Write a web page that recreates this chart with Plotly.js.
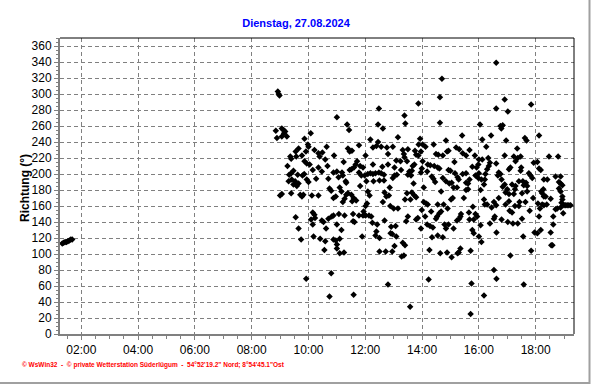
<!DOCTYPE html>
<html>
<head>
<meta charset="utf-8">
<script src="https://cdn.plot.ly/plotly-3.0.1.min.js"></script>
<style>html,body{margin:0;padding:0;background:#fff;}#chart{width:592px;height:384px;}</style>
</head>
<body>
<div id="chart"></div>
<script>
// Time of measurement in decimal hours (27.08.2024)
var hours = [
1.33,1.38,1.43,1.48,1.53,1.58,1.63,1.68,
8.92,8.98,8.95,9.06,9.12,9.18,9.14,8.85,8.89,9.06,9.24,9.86,10.08,9.98,10.0,9.65,9.55,9.77,9.91,9.36,9.39,9.57,9.86,9.94,10.04,10.21,10.35,10.49,10.39,10.64,10.90,10.59,10.67,9.26,10.35,10.47,10.15,9.47,9.39,9.32,9.62,9.85,9.79,10.88,9.30,9.41,9.53,9.65,9.47,9.59,9.94,10.0,10.27,10.70,10.74,10.80,10.88,9.00,9.06,9.39,9.71,9.77,9.82,10.12,10.35,10.15,10.21,10.23,10.09,10.47,10.53,10.70,10.82,10.88,9.55,9.65,10.15,10.62,9.74,10.18,10.41,10.59,10.56,10.88,10.80,9.92,10.74,
10.96,11.00,12.48,11.36,11.43,12.45,12.62,11.78,12.18,13.15,11.39,11.45,11.53,12.27,12.39,12.56,12.76,12.97,12.45,12.80,12.01,11.71,11.66,11.60,11.51,11.45,11.82,11.92,11.24,12.27,12.80,13.09,12.60,13.03,11.00,11.18,11.78,11.86,11.98,12.09,12.18,12.27,12.36,12.48,12.56,12.66,13.03,13.11,11.06,11.21,11.33,11.31,12.04,12.29,12.50,12.66,12.97,12.86,11.10,11.16,11.82,12.09,12.15,12.68,12.74,12.83,11.39,11.33,11.27,11.21,11.51,11.59,11.68,11.54,12.62,12.06,12.01,12.88,13.00,13.15,11.94,11.98,11.07,11.27,11.57,11.78,11.92,12.01,12.13,12.21,11.00,11.57,11.62,12.25,12.42,12.68,12.91,13.07,11.16,12.39,12.36,12.50,12.89,12.95,11.89,11.10,10.96,11.00,11.00,13.09,13.03,11.10,11.25,12.50,12.72,12.95,12.80,11.59,
14.70,14.63,13.87,13.38,13.41,14.63,15.41,13.93,13.88,14.02,14.12,14.41,14.84,13.32,13.36,13.50,13.75,13.79,13.87,13.96,14.49,14.57,14.73,14.88,14.93,15.20,15.31,15.43,15.55,13.38,13.47,13.24,13.73,13.67,14.02,14.20,14.29,14.43,14.55,15.14,13.26,13.55,13.64,13.50,13.61,13.99,13.96,14.18,14.34,14.40,14.46,14.61,14.93,15.00,14.73,14.84,14.96,15.04,15.16,15.25,15.29,15.43,15.55,13.70,14.06,15.11,15.23,15.55,15.55,14.67,13.47,13.64,13.73,13.79,13.40,13.59,15.08,15.02,15.47,14.06,14.14,14.20,14.55,14.76,13.99,14.32,14.61,14.67,14.53,14.49,14.90,15.37,15.35,15.31,15.23,13.50,13.85,13.79,14.11,13.44,14.18,14.28,14.38,13.96,14.79,14.84,14.93,15.11,14.35,14.55,14.73,13.32,13.40,13.28,13.36,14.26,14.64,14.88,15.04,15.35,15.29,15.25,14.23,13.58,
16.61,16.91,16.61,17.02,17.84,16.04,16.76,16.84,16.79,16.12,16.43,16.96,17.62,17.68,16.26,15.67,17.35,15.86,16.0,16.12,16.33,16.39,16.35,16.29,16.23,16.21,16.18,16.91,17.23,17.29,17.37,17.47,15.98,15.92,15.77,16.61,17.11,17.06,17.49,17.47,17.93,15.67,15.62,15.88,16.0,15.98,16.70,16.76,16.67,16.80,16.09,17.76,17.82,17.88,16.91,16.84,17.00,17.17,17.29,17.27,17.23,17.41,17.55,17.66,17.70,17.58,15.62,16.94,17.06,17.52,17.70,16.06,16.18,16.29,16.53,16.61,16.70,16.21,16.45,15.79,16.94,17.06,17.27,17.41,17.43,17.64,17.91,15.65,15.88,15.94,17.08,17.17,17.79,16.56,16.53,15.67,15.82,16.80,17.02,17.20,17.37,17.52,16.06,16.39,15.77,15.82,16.0,16.62,16.09,17.56,17.96,15.71,17.84,17.11,16.53,16.62,15.74,17.58,16.18,15.71,
18.12,18.47,18.79,18.06,18.12,18.18,18.29,18.41,18.70,18.88,18.82,18.88,18.94,18.27,18.23,18.20,18.82,18.88,18.35,18.29,18.53,18.94,18.94,18.91,18.08,18.23,18.29,18.39,19.00,19.06,19.11,19.17,19.23,18.88,18.70,18.76,18.15,18.12,18.62,18.97,18.62,18.18,18.06,18.53,18.55,18.59
];
// Wind direction in degrees
var direction = [
113,114,115,115,116,117,118,118,
303,298,300,257,255,253,251,254,245,247,247,244,251,237,234,232,228,223,228,222,219,222,216,213,212,230,226,227,222,234,223,218,210,210,208,203,205,204,201,199,199,200,198,202,191,193,191,188,187,185,193,190,194,194,182,179,170,173,175,176,174,172,174,173,173,152,149,145,143,142,140,144,147,148,146,132,137,132,118,122,119,116,105,118,76,69,47,
172,271,282,262,255,262,257,236,243,246,232,228,229,233,235,234,233,234,240,225,223,216,212,208,206,205,210,208,215,212,212,217,209,208,203,202,202,198,198,200,201,200,201,202,201,199,198,199,196,198,189,191,191,191,192,192,195,183,183,178,185,178,173,177,172,173,176,174,169,165,174,170,167,166,165,163,160,160,157,157,153,149,150,148,150,148,148,148,148,147,137,141,140,139,137,142,134,135,130,128,123,120,126,125,122,119,117,112,107,122,110,101,102,103,103,103,62,49,
319,296,288,273,263,264,248,244,237,237,234,237,242,230,225,231,229,224,223,228,225,224,223,228,229,233,231,226,223,221,216,216,212,210,216,212,211,210,208,215,205,203,204,199,198,207,202,203,197,194,190,207,205,204,195,191,188,189,201,196,193,200,201,188,183,183,183,189,180,178,176,177,173,171,168,168,170,168,170,165,163,162,162,162,155,153,151,153,147,144,157,150,147,144,142,147,145,143,147,141,137,135,133,132,137,132,137,132,121,123,121,114,111,97,98,105,101,102,96,107,102,101,68,34,
339,293,282,278,287,262,260,261,257,243,248,242,245,242,234,230,232,223,218,218,220,214,210,206,200,193,187,223,222,216,220,222,212,208,209,213,208,206,208,204,214,193,188,198,201,195,202,200,198,193,193,201,198,195,187,184,181,187,185,181,175,191,191,189,185,186,181,177,175,176,178,180,168,162,165,161,170,162,158,159,162,166,160,160,165,165,170,152,150,147,154,152,154,147,144,143,143,143,140,138,138,144,136,138,130,126,122,127,115,122,127,104,104,98,80,69,63,62,48,25,
248,222,222,215,207,205,193,193,197,197,190,188,186,181,176,178,182,178,172,172,169,172,168,164,163,162,161,162,161,161,161,161,161,158,156,157,157,147,147,151,137,130,126,127,111,111
];
var tickHours = [2,4,6,8,10,12,14,16,18];
var tickLabels = ["02:00","04:00","06:00","08:00","10:00","12:00","14:00","16:00","18:00"];
var chartTitle = "Dienstag, 27.08.2024";
var yTitle = "Richtung (°)";
var footer = "© WsWin32  -  © private Wetterstation Süderlügum  -  54°52'19.2\" Nord; 8°54'45.1\"Ost";

var W = 592, H = 384, L = 60, R = 18, T = 38, B = 50;
var pw = W - L - R, ph = H - T - B;

var trace = {
  x: hours, y: direction, type: 'scatter', mode: 'markers',
  marker: {symbol: 'diamond', size: 5, color: '#000000', line: {width: 0}},
  hoverinfo: 'x+y', showlegend: false
};

var axFont = {family: 'Liberation Sans, Arial, sans-serif', size: 12, color: '#000'};
var layout = {
  width: W, height: H,
  margin: {l: L, r: R, t: T, b: B, pad: 0},
  paper_bgcolor: '#ffffff', plot_bgcolor: '#ffffff',
  title: {text: '<b>' + chartTitle + '</b>', x: 0.5, xanchor: 'center', y: 1 - 23/H, yanchor: 'middle', yref: 'container',
          font: {family: 'Liberation Sans, Arial, sans-serif', size: 11, color: '#0000ff'}},
  xaxis: {
    range: [1.25, 19.35], tickmode: 'array', tickvals: tickHours, ticktext: tickLabels,
    showgrid: true, gridcolor: '#808080', griddash: '4px,3px', gridwidth: 1,
    showline: true, linecolor: '#808080', linewidth: 2,
    ticks: 'outside', ticklen: 4, tickcolor: '#808080', tickwidth: 1,
    minor: {tick0: 0, dtick: 0.5, ticks: 'outside', ticklen: 3, tickcolor: '#808080', showgrid: false},
    tickfont: axFont, zeroline: false, fixedrange: true
  },
  yaxis: {
    range: [0, 370], tickmode: 'linear', tick0: 0, dtick: 20,
    showgrid: true, gridcolor: '#808080', griddash: '4px,3px', gridwidth: 1,
    showline: true, linecolor: '#808080', linewidth: 2,
    ticks: 'outside', ticklen: 4, tickcolor: '#808080', tickwidth: 1,
    minor: {tick0: 0, dtick: 5, ticks: 'outside', ticklen: 2, tickcolor: '#808080', showgrid: false},
    tickfont: axFont, zeroline: false, fixedrange: true
  },
  shapes: [
    {type: 'line', xref: 'paper', yref: 'paper', x0: 0, x1: 1, y0: 1, y1: 1, line: {color: '#000', width: 1}},
    {type: 'line', xref: 'paper', yref: 'paper', x0: 1, x1: 1, y0: 0, y1: 1, line: {color: '#000', width: 1}},
    {type: 'line', xref: 'paper', yref: 'paper', x0: (589.5 - L)/pw, x1: (589.5 - L)/pw, y0: -(H - T - ph)/ph, y1: (H - 0)/ph, line: {color: '#a0a0a0', width: 2}},
    {type: 'line', xref: 'paper', yref: 'paper', x0: -L/pw, x1: (590 - L)/pw, y0: (T + ph - 383)/ph, y1: (T + ph - 383)/ph, line: {color: '#a0a0a0', width: 2}}
  ],
  annotations: [
    {text: '<b>' + yTitle + '</b>', xref: 'paper', yref: 'paper', x: (25 - L)/pw, y: (T + ph - 188)/ph,
     xanchor: 'center', yanchor: 'middle', textangle: -90, showarrow: false,
     font: {family: 'Liberation Sans, Arial, sans-serif', size: 12, color: '#000'}},
    {text: '<b>' + footer + '</b>', xref: 'paper', yref: 'paper', x: (20 - L)/pw, y: (T + ph - 365)/ph,
     xanchor: 'left', yanchor: 'middle', showarrow: false,
     font: {family: 'Liberation Sans, Arial, sans-serif', size: 6.5, color: '#ff0000'}}
  ]
};
Plotly.newPlot('chart', [trace], layout, {staticPlot: true, displayModeBar: false});
</script>
</body>
</html>
